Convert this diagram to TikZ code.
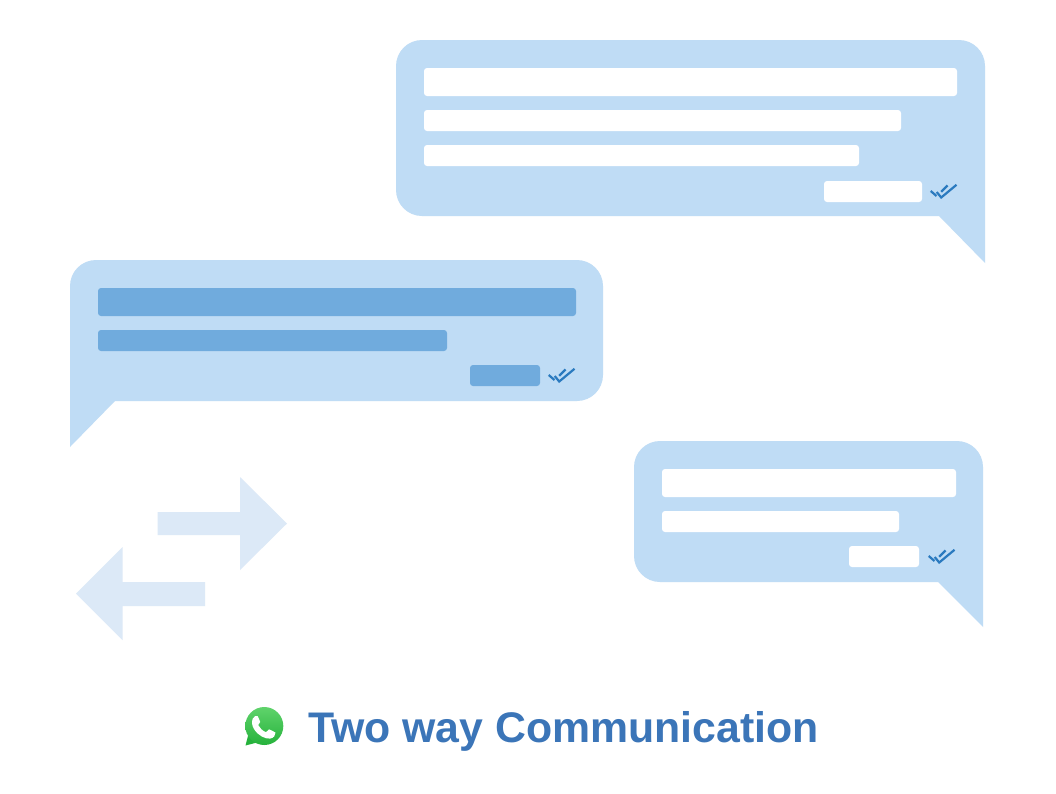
\documentclass[tikz,border=0pt]{standalone}
\usepackage{fontspec}
\setmainfont{Liberation Sans}
\definecolor{bubble}{HTML}{BFDCF5}
\definecolor{barblue}{HTML}{70ABDD}
\definecolor{checkblue}{HTML}{2A7ABF}
\definecolor{arrowpale}{HTML}{DCE9F7}
\definecolor{titleblue}{HTML}{3B75B8}
\definecolor{wagtop}{HTML}{5FD36B}
\definecolor{wagbot}{HTML}{26B23C}
\tikzset{
  x=1pt,y=-1pt,
  bubblefill/.style={fill=bubble,draw=none},
  whitebar/.style={fill=white,draw=none,rounded corners=3pt},
  bluebar/.style={fill=barblue,draw=none,rounded corners=3pt},
  paleshape/.style={fill=arrowpale,draw=none},
  tick/.style={draw=checkblue,line width=2.2pt},
  pics/dcheck/.style={code={
    \draw[tick] (0.7,8) -- (6.5,13);
    \draw[tick] (6.7,9) -- (11.2,14.5) -- (26.5,1.8);
    \draw[tick] (11.2,8.8) -- (17.5,2.5);
  }}
}
\begin{document}
\begin{tikzpicture}
\useasboundingbox (0,0) rectangle (1056,793);
\fill[white] (0,0) rectangle (1056,793);
% top bubble
\path[bubblefill,rounded corners=26pt] (396,40) -- (985,40) [sharp corners] -- (985,263) -- (939,216) [rounded corners=26pt] -- (396,216) -- cycle;
\path[whitebar] (424,68) rectangle (957,96);
\path[whitebar] (424,110) rectangle (901,131);
\path[whitebar] (424,145) rectangle (859,166);
\path[whitebar] (824,181) rectangle (922,202);
\pic at (930,183) {dcheck};
% middle bubble
\path[bubblefill,rounded corners=26pt] (70,260) -- (603,260) -- (603,401) [sharp corners] -- (115,401) -- (70,447) [rounded corners=26pt] -- cycle;
\path[bluebar] (98,288) rectangle (576,316);
\path[bluebar] (98,330) rectangle (447,351);
\path[bluebar] (470,365) rectangle (540,386);
\pic at (548,367) {dcheck};
% lower bubble
\path[bubblefill,rounded corners=26pt] (634,441) -- (983,441) [sharp corners] -- (983,627) -- (938,582) [rounded corners=26pt] -- (634,582) -- cycle;
\path[whitebar] (662,469) rectangle (956,497);
\path[whitebar] (662,511) rectangle (899,532);
\path[whitebar] (849,546) rectangle (919,567);
\pic at (928,548) {dcheck};
% exchange arrows
\path[paleshape] (157.5,512) -- (240,512) -- (240,477) -- (287,523.5) -- (240,570) -- (240,535) -- (157.5,535) -- cycle;
\path[paleshape] (205,582) -- (122.5,582) -- (122.5,547) -- (76,593.5) -- (122.5,640) -- (122.5,606) -- (205,606) -- cycle;
% logo
\path[fill=wagbot] (245.5,745.5) -- (248.5,734) -- (257,742.5) -- cycle;
\path[top color=wagtop,bottom color=wagbot,draw=none] (264.3,726) circle[radius=19];
\path[fill=white] (252.8,718.5) .. controls (254,716) and (256,715.6) .. (257.6,716) .. controls (258.5,718) and (259.6,720) .. (260.2,722) .. controls (259.6,723.4) and (258.6,724) .. (258.2,725) .. controls (259.8,728) and (262,730.5) .. (266,732.2) .. controls (267.2,731.4) and (268,730) .. (269,729.3) .. controls (271,730) and (273.4,731.4) .. (275.5,732.6) .. controls (275.6,735) and (274,738) .. (270,738.6) .. controls (265,739) and (258,735.5) .. (254,729) .. controls (252,726) and (251.4,721.5) .. (252.8,718.5) -- cycle;
% title
\node[anchor=base west,inner sep=0pt,text=titleblue,font=\fontsize{42.8}{43}\selectfont\bfseries] (title) at (308,742) {Two way Communication};
\end{tikzpicture}
\end{document}
